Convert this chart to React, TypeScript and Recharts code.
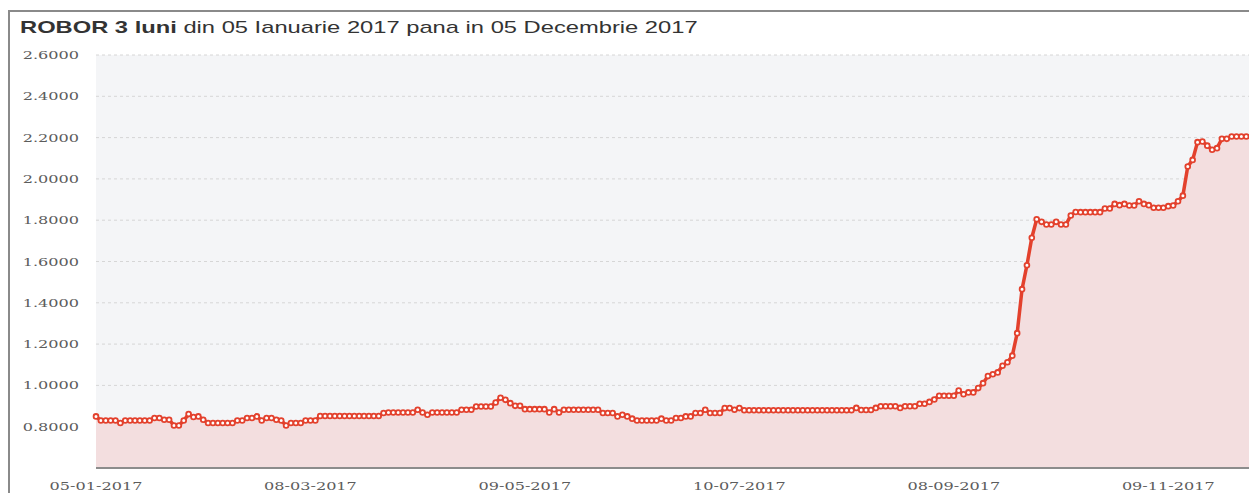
import React from 'react';
import { ComposedChart, Area, XAxis, YAxis, CartesianGrid } from 'recharts';

// Weekday dates (day numbers per month), 05-01-2017 .. 05-12-2017
const janDays = [5, 6, 9, 10, 11, 12, 13, 16, 17, 18, 19, 20, 23, 24, 25, 26, 27, 30, 31];
const febDays = [1, 2, 3, 6, 7, 8, 9, 10, 13, 14, 15, 16, 17, 20, 21, 22, 23, 24, 27, 28];
const marDays = [1, 2, 3, 6, 7, 8, 9, 10, 13, 14, 15, 16, 17, 20, 21, 22, 23, 24, 27, 28, 29, 30, 31];
const aprDays = [3, 4, 5, 6, 7, 10, 11, 12, 13, 14, 17, 18, 19, 20, 21, 24, 25, 26, 27, 28];
const mayDays = [1, 2, 3, 4, 5, 8, 9, 10, 11, 12, 15, 16, 17, 18, 19, 22, 23, 24, 25, 26, 29, 30, 31];
const junDays = [1, 2, 5, 6, 7, 8, 9, 12, 13, 14, 15, 16, 19, 20, 21, 22, 23, 26, 27, 28, 29, 30];
const julDays = [3, 4, 5, 6, 7, 10, 11, 12, 13, 14, 17, 18, 19, 20, 21, 24, 25, 26, 27, 28, 31];
const augDays = [1, 2, 3, 4, 7, 8, 9, 10, 11, 14, 15, 16, 17, 18, 21, 22, 23, 24, 25, 28, 29, 30, 31];
const sepDays = [1, 4, 5, 6, 7, 8, 11, 12, 13, 14, 15, 18, 19, 20, 21, 22, 25, 26, 27, 28, 29];
const octDays = [2, 3, 4, 5, 6, 9, 10, 11, 12, 13, 16, 17, 18, 19, 20, 23, 24, 25, 26, 27, 30, 31];
const novDays = [1, 2, 3, 6, 7, 8, 9, 10, 13, 14, 15, 16, 17, 20, 21, 22, 23, 24, 27, 28, 29, 30];
const decDays = [1, 4, 5];

// ROBOR 3M values, Jan..Dec 2017
const robor3m = [
  // Jan
  0.85, 0.83, 0.83, 0.83, 0.83, 0.818, 0.83, 0.83, 0.83, 0.83, 0.83, 0.83, 0.842, 0.842, 0.834, 0.834, 0.806, 0.806, 0.83,
  // Feb
  0.861, 0.847, 0.85, 0.834, 0.818, 0.818, 0.818, 0.818, 0.818, 0.818, 0.83, 0.83, 0.842, 0.842, 0.85, 0.83, 0.842, 0.842, 0.834, 0.83,
  // Mar
  0.806, 0.818, 0.818, 0.818, 0.83, 0.83, 0.83, 0.852, 0.852, 0.852, 0.852, 0.852, 0.852, 0.852, 0.852, 0.852, 0.852, 0.852, 0.852, 0.852, 0.866, 0.869, 0.869,
  // Apr
  0.869, 0.869, 0.869, 0.869, 0.882, 0.869, 0.858, 0.869, 0.869, 0.869, 0.869, 0.869, 0.869, 0.882, 0.882, 0.882, 0.898, 0.898, 0.898, 0.898,
  // May
  0.917, 0.94, 0.93, 0.914, 0.901, 0.901, 0.885, 0.885, 0.885, 0.885, 0.885, 0.869, 0.885, 0.869, 0.882, 0.882, 0.882, 0.882, 0.882, 0.882, 0.882, 0.882, 0.866,
  // Jun
  0.866, 0.866, 0.85, 0.858, 0.85, 0.839, 0.83, 0.83, 0.83, 0.83, 0.83, 0.839, 0.83, 0.83, 0.842, 0.842, 0.85, 0.85, 0.866, 0.866, 0.882, 0.866,
  // Jul
  0.866, 0.866, 0.89, 0.89, 0.882, 0.89, 0.88, 0.88, 0.88, 0.88, 0.88, 0.88, 0.88, 0.88, 0.88, 0.88, 0.88, 0.88, 0.88, 0.88, 0.88,
  // Aug
  0.88, 0.88, 0.88, 0.88, 0.88, 0.88, 0.88, 0.88, 0.891, 0.881, 0.881, 0.881, 0.891, 0.899, 0.899, 0.899, 0.899, 0.891, 0.899, 0.899, 0.899, 0.911, 0.911,
  // Sep
  0.92, 0.932, 0.95, 0.95, 0.95, 0.95, 0.975, 0.957, 0.966, 0.966, 0.987, 1.011, 1.045, 1.054, 1.063, 1.095, 1.112, 1.144, 1.253, 1.466, 1.582,
  // Oct
  1.715, 1.804, 1.792, 1.779, 1.779, 1.792, 1.779, 1.779, 1.823, 1.84, 1.839, 1.839, 1.839, 1.839, 1.839, 1.857, 1.857, 1.879, 1.873, 1.879, 1.871, 1.871,
  // Nov
  1.892, 1.879, 1.873, 1.86, 1.86, 1.86, 1.868, 1.871, 1.892, 1.919, 2.06, 2.092, 2.178, 2.181, 2.161, 2.141, 2.149, 2.194, 2.194, 2.205, 2.205, 2.205,
  // Dec
  2.205, 2.205, 2.205,
];

const monthDays = [janDays, febDays, marDays, aprDays, mayDays, junDays, julDays, augDays, sepDays, octDays, novDays, decDays];
const pad = (n: number) => (n < 10 ? '0' + n : '' + n);
const dates: string[] = [];
monthDays.forEach((days, m) => days.forEach((d) => dates.push(`${pad(d)}-${pad(m + 1)}-2017`)));

const xTickLabels = ['05-01-2017', '08-03-2017', '09-05-2017', '10-07-2017', '08-09-2017', '09-11-2017'];
const yTicks = [0.8, 1.0, 1.2, 1.4, 1.6, 1.8, 2.0, 2.2, 2.4, 2.6];

const data = dates.map((date, i) => ({ date, value: robor3m[i] }));

const RED = '#e3412d';
const STRETCH = 1.4;

const XTick = (props: any) => {
  const { x, y, payload } = props;
  return (
    <g transform={`translate(${x},${y})`}>
      <text
        x={0}
        y={0}
        dy="0.35em"
        textAnchor="middle"
        transform={`scale(${STRETCH},1)`}
        fill="#5c5c5c"
        fontFamily="'DejaVu Serif', serif"
        fontSize={11.5}
      >
        {payload.value}
      </text>
    </g>
  );
};

const YTick = (props: any) => {
  const { x, y, payload } = props;
  return (
    <g transform={`translate(${x},${y})`}>
      <text
        x={0}
        y={0}
        dy="0.35em"
        textAnchor="end"
        transform={`scale(${STRETCH},1)`}
        fill="#5c5c5c"
        fontFamily="'DejaVu Serif', serif"
        fontSize={11.5}
      >
        {Number(payload.value).toFixed(4)}
      </text>
    </g>
  );
};

export default function App() {
  return (
    <div
      style={{
        position: 'fixed',
        left: 0,
        top: 0,
        width: 1249,
        height: 493,
        overflow: 'hidden',
        background: '#ffffff',
      }}
    >
      <div
        style={{
          position: 'absolute',
          left: 8,
          top: 10,
          width: 1400,
          height: 700,
          borderLeft: '2px solid #8a8a8a',
          borderTop: '2px solid #8a8a8a',
          boxSizing: 'border-box',
        }}
      />
      <div
        style={{
          position: 'absolute',
          left: 20,
          top: 19,
          fontFamily: "'Liberation Sans', Arial, sans-serif",
          fontSize: 17,
          lineHeight: '17px',
          color: '#333333',
          whiteSpace: 'nowrap',
          transform: 'scaleX(1.395)',
          transformOrigin: 'left top',
        }}
      >
        <b>ROBOR 3 luni</b> din 05 Ianuarie 2017 pana in 05 Decembrie 2017
      </div>
      <div style={{ position: 'absolute', left: 0, top: 0 }}>
        <ComposedChart
          width={1300}
          height={520}
          data={data}
          margin={{ top: 55, right: 44, left: 0, bottom: 12 }}
        >
          <CartesianGrid
            vertical={false}
            fill="#f4f5f7"
            stroke="#d6d6d6"
            strokeDasharray="3 3"
          />
          <XAxis
            dataKey="date"
            ticks={xTickLabels}
            interval={0}
            height={40}
            tickSize={0}
            tickMargin={18}
            tick={<XTick />}
            axisLine={{ stroke: '#8c8c8c', strokeWidth: 2 }}
            tickLine={false}
          />
          <YAxis
            type="number"
            domain={[0.6, 2.6]}
            ticks={yTicks}
            width={96}
            tickSize={0}
            tickMargin={17}
            tick={<YTick />}
            axisLine={false}
            tickLine={false}
            allowDataOverflow
          />
          <Area
            type="linear"
            dataKey="value"
            stroke={RED}
            strokeWidth={3.5}
            fill="#f3dedf"
            fillOpacity={1}
            dot={{ r: 2.4, fill: '#ffffff', stroke: RED, strokeWidth: 1.8 }}
            activeDot={false}
            isAnimationActive={false}
          />
        </ComposedChart>
      </div>
    </div>
  );
}
